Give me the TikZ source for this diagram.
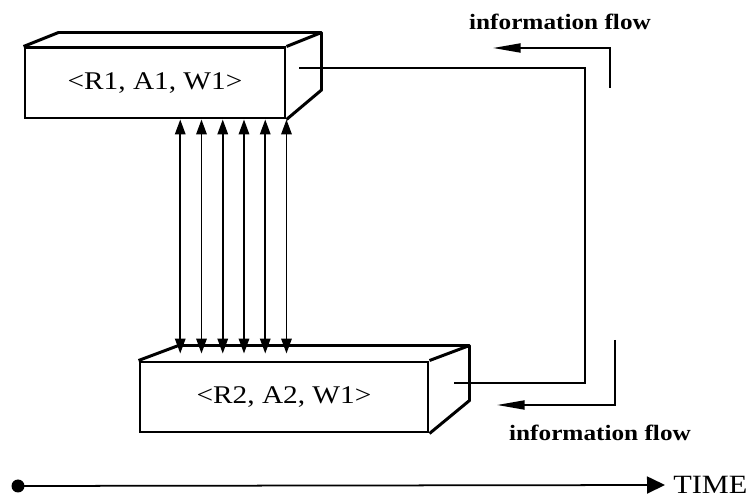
\documentclass[tikz,border=0pt]{standalone}
\usepackage{fontspec}
\newfontfamily\diagfont[FakeStretch=1.15]{Liberation Serif}
\usetikzlibrary{arrows.meta,positioning,calc}

\begin{document}
\begin{tikzpicture}[
  font=\diagfont,
  frontface/.style={draw, line width=1.7pt, minimum height=1.4cm, inner sep=0pt,
                    font=\diagfont\fontsize{14.5}{16}\selectfont},
  sideface/.style={line width=1.7pt, line join=round},
  link/.style={line width=1.6pt},
  exchange/.style={{Triangle[length=3mm,width=2.1mm]}-{Triangle[length=3mm,width=2.1mm]}, line width=1pt},
  flowarrow/.style={-{Triangle[length=5.5mm,width=1.8mm]}, line width=1pt},
  flowlabel/.style={font=\diagfont\bfseries\fontsize{12.5}{14}\selectfont},
  timeline/.style={-{Triangle[length=3.6mm,width=3.4mm]}, line width=1pt},
]
\useasboundingbox (0,0) rectangle (14.98,9.96);

% --- the two states ---
\node[frontface, minimum width=5.2cm] (box1) at (3.1,8.3) {<R1, A1, W1>};
\node[frontface, minimum width=5.76cm] (box2) at (5.68,2.02) {<R2, A2, W1>};

% 3D faces
\draw[sideface] (box1.north west) -- ++(0.7,0.28) -- ($(box1.north east)+(0.7,0.28)$)
  -- ++(0,-1.15) -- (box1.south east);
\draw[sideface] (box1.north east) -- ++(0.7,0.28);
\draw[sideface] (box2.north west) -- ++(0.8,0.3) -- ($(box2.north east)+(0.8,0.3)$)
  -- ++(0,-1.1) -- (box2.south east);
\draw[sideface] (box2.north east) -- ++(0.8,0.3);

% --- exchanges between the states ---
\coordinate (top2) at ($(box2.north)+(0,0.14)$);
\foreach \i in {0,...,5} {
  \coordinate (up\i) at ($(box1.south east)+(-0.425*\i,0)$);
  \draw[exchange] (up\i) -- (up\i |- top2);
}

% --- link between the states ---
\coordinate (bend) at (11.7,5.5);
\draw[link] ($(box1.east)+(0.26,0.3)$) -| (bend) |- ($(box2.east)+(0.5,0.28)$);

% --- information flow ---
\coordinate (flowA) at (12.2,8.2);
\coordinate (flowAend) at (9.86,9.0);
\draw[flowarrow] (flowA) |- (flowAend);
\node[flowlabel] (lblA) at (11.2,9.52) {information flow};

\coordinate (flowB) at (12.3,3.16);
\coordinate (flowBend) at (9.94,1.86);
\draw[flowarrow] (flowB) |- (flowBend);
\node[flowlabel] (lblB) at (12.0,1.3) {information flow};

% --- time axis ---
\node[circle, fill, inner sep=0pt, minimum size=2.6mm] (t0) at (0.36,0.24) {};
\node[anchor=west, inner sep=0pt, font=\diagfont\fontsize{15}{17}\selectfont] (time) at (13.46,0.26) {TIME};
\draw[timeline] (t0.center) -- ([xshift=-0.16cm]time.west);

\end{tikzpicture}
\end{document}
